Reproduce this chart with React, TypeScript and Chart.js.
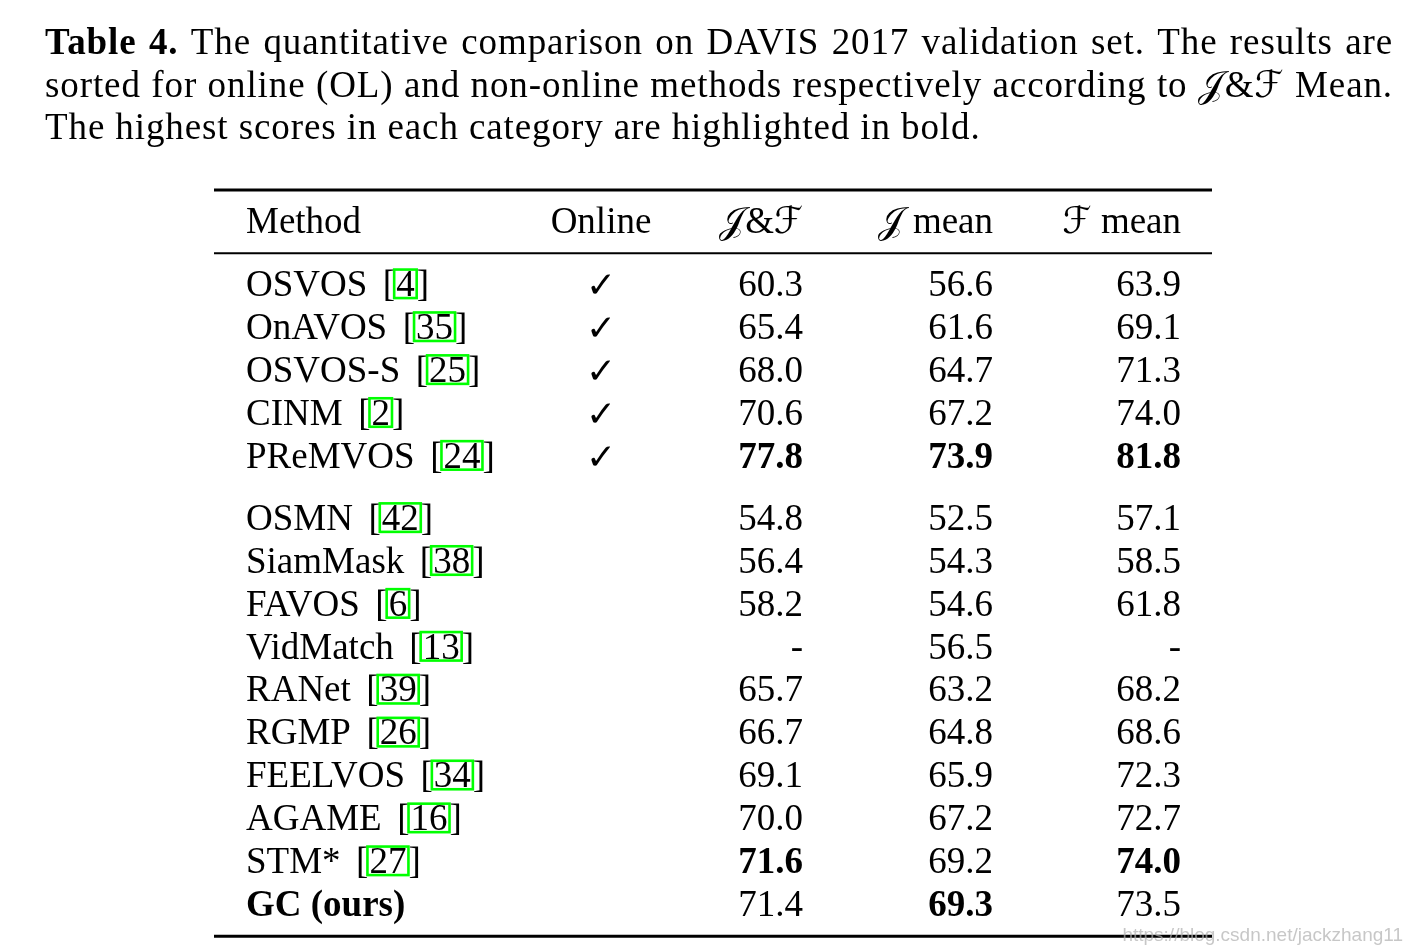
import React, { useEffect, useRef } from "react";
import { Chart, registerables } from "chart.js";

Chart.register(...registerables);

// ---------- data ----------
const captionLines = [
  "Table 4. The quantitative comparison on DAVIS 2017 validation set. The results are",
  "sorted for online (OL) and non-online methods respectively according to \u{1D4A5}&\u2131 Mean.",
  "The highest scores in each category are highlighted in bold.",
];
const captionBoldWords = ["Table", "4."];
const headers = ["Method", "Online", "\u{1D4A5}&\u2131", "\u{1D4A5} mean", "\u2131 mean"];
const methods = [
  "OSVOS", "OnAVOS", "OSVOS-S", "CINM", "PReMVOS",
  "OSMN", "SiamMask", "FAVOS", "VidMatch", "RANet", "RGMP", "FEELVOS", "AGAME", "STM*", "GC (ours)",
];
const refs = ["4", "35", "25", "2", "24", "42", "38", "6", "13", "39", "26", "34", "16", "27", ""];
const online = [true, true, true, true, true, false, false, false, false, false, false, false, false, false, false];
const jfMean: (number | null)[] = [60.3, 65.4, 68.0, 70.6, 77.8, 54.8, 56.4, 58.2, null, 65.7, 66.7, 69.1, 70.0, 71.6, 71.4];
const jMean: (number | null)[] = [56.6, 61.6, 64.7, 67.2, 73.9, 52.5, 54.3, 54.6, 56.5, 63.2, 64.8, 65.9, 67.2, 69.2, 69.3];
const fMean: (number | null)[] = [63.9, 69.1, 71.3, 74.0, 81.8, 57.1, 58.5, 61.8, null, 68.2, 68.6, 72.3, 72.7, 74.0, 73.5];
const oursMethod = "GC (ours)";
const watermark = "https://blog.csdn.net/jackzhang11";

// ---------- layout ----------
const W = 1408;
const H = 952;
const ROW_PX = 42.9;
const HEADER_PX = 233;
const Y_MIN = -HEADER_PX / ROW_PX;
const Y_MAX = Y_MIN + H / ROW_PX;
const FIRST_ROW = 1.47;
const GROUP_GAP = 0.45;
const CAPTION_Y = [-4.18, -3.18, -2.18];
const RULE_TOP = -1.0;
const RULE_MID = 0.47;
const RULE_BOT = 16.39;
const WATERMARK_Y = 16.5;
const COL = { method: 246, online: 601, jf: 803, j: 993, f: 1181 };
const RULE_L = 214;
const RULE_R = 1212;
const CAP_L = 45;
const CAP_R = 1393;
const FS = 37;
const CAPTION_SPACING = "0.9px";
const SERIF = "'Liberation Serif', 'DejaVu Serif', 'DejaVu Sans', serif";
const font = (bold: boolean, size = FS) => `${bold ? "bold " : ""}${size}px ${SERIF}`;

const rowY = (i: number) => FIRST_ROW + i + (online[i] ? 0 : GROUP_GAP);

function groupMax(arr: (number | null)[], isOnline: boolean) {
  let m = -Infinity;
  arr.forEach((v, i) => {
    if (online[i] === isOnline && v !== null && v > m) m = v;
  });
  return m;
}

const tablePlugin = {
  id: "tableText",
  afterDraw(chart: any) {
    const ctx: any = chart.ctx;
    const xs = chart.scales.x;
    const ys = chart.scales.y;
    const X = (v: number) => xs.getPixelForValue(v);
    const Y = (v: number) => ys.getPixelForValue(v);
    ctx.save();
    ctx.fillStyle = "#000";
    ctx.textBaseline = "alphabetic";

    // caption (justified)
    ctx.letterSpacing = CAPTION_SPACING;
    captionLines.forEach((line, li) => {
      const words = line.split(" ");
      const bolds = words.map((w, wi) => li === 0 && wi < captionBoldWords.length && captionBoldWords[wi] === w);
      const widths = words.map((w, wi) => {
        ctx.font = font(bolds[wi]);
        return ctx.measureText(w).width;
      });
      const sum = widths.reduce((a, b) => a + b, 0);
      ctx.font = font(false);
      const space = ctx.measureText(" ").width;
      const justify = li < captionLines.length - 1;
      const gap = justify ? (X(CAP_R) - X(CAP_L) - sum) / (words.length - 1) : space;
      let x = X(CAP_L);
      const y = Y(CAPTION_Y[li]);
      ctx.textAlign = "left";
      words.forEach((w, wi) => {
        ctx.font = font(bolds[wi]);
        ctx.fillText(w, x, y);
        x += widths[wi] + gap;
      });
    });
    ctx.letterSpacing = "0px";

    // header
    const hy = Y(0);
    ctx.font = font(false);
    ctx.textAlign = "left";
    ctx.fillText(headers[0], X(COL.method), hy);
    ctx.textAlign = "center";
    ctx.fillText(headers[1], X(COL.online), hy);
    ctx.textAlign = "right";
    ctx.fillText(headers[2], X(COL.jf), hy);
    ctx.fillText(headers[3], X(COL.j), hy);
    ctx.fillText(headers[4], X(COL.f), hy);

    const cols: [(number | null)[], number][] = [
      [jfMean, COL.jf],
      [jMean, COL.j],
      [fMean, COL.f],
    ];

    methods.forEach((m, i) => {
      const y = Y(rowY(i));
      // method
      const bold = m === oursMethod;
      ctx.font = font(bold);
      ctx.textAlign = "left";
      let x = X(COL.method);
      ctx.fillText(m, x, y);
      x += ctx.measureText(m).width;
      if (refs[i]) {
        x += FS * 0.42;
        ctx.font = font(false);
        ctx.fillText("[", x, y);
        x += ctx.measureText("[").width;
        const nw = ctx.measureText(refs[i]).width;
        ctx.fillText(refs[i], x + 1, y);
        const bx = x - 1;
        const bw = nw + 4;
        ctx.fillText("]", x + nw + 3, y);
        ctx.strokeStyle = "#00ff00";
        ctx.lineWidth = 2.6;
        ctx.strokeRect(bx, y - 26.5, bw, 28.5);
      }
      // online
      if (online[i]) {
        ctx.font = "36px 'DejaVu Sans', sans-serif";
        ctx.textAlign = "center";
        ctx.fillText("\u2713", X(COL.online), y + 1);
      }
      // numbers
      cols.forEach(([arr, cx]) => {
        const v = arr[i];
        const isMax = v !== null && v === groupMax(arr, online[i]);
        ctx.font = font(isMax);
        ctx.textAlign = "right";
        ctx.fillText(v === null ? "-" : v.toFixed(1), X(cx), y);
      });
    });

    // watermark
    ctx.font = "19px 'Liberation Sans', Arial, sans-serif";
    ctx.fillStyle = "rgba(175,175,175,0.7)";
    ctx.textAlign = "right";
    ctx.fillText(watermark, X(1403), Y(WATERMARK_Y));
    ctx.restore();
  },
};

const rule = (yv: number, w: number) => ({
  type: "scatter" as const,
  data: [
    { x: RULE_L, y: yv },
    { x: RULE_R, y: yv },
  ],
  showLine: true,
  borderColor: "#000",
  borderWidth: w,
  pointRadius: 0,
  clip: false as any,
});

export default function App() {
  const ref = useRef<HTMLCanvasElement>(null);
  useEffect(() => {
    document.body.style.margin = "0";
    const canvas = ref.current!;
    const chart = new Chart(canvas, {
      type: "scatter",
      data: { datasets: [rule(RULE_TOP, 3), rule(RULE_MID, 2), rule(RULE_BOT, 3)] as any },
      options: {
        responsive: false,
        animation: false,
        events: [],
        layout: { padding: 0 },
        plugins: { legend: { display: false }, tooltip: { enabled: false } },
        scales: {
          x: { type: "linear", display: false, min: 0, max: W },
          y: { type: "linear", display: false, reverse: true, min: Y_MIN, max: Y_MAX },
        },
      },
      plugins: [tablePlugin],
    });
    return () => chart.destroy();
  }, []);
  return <canvas ref={ref} width={W} height={H} style={{ display: "block" }} />;
}
